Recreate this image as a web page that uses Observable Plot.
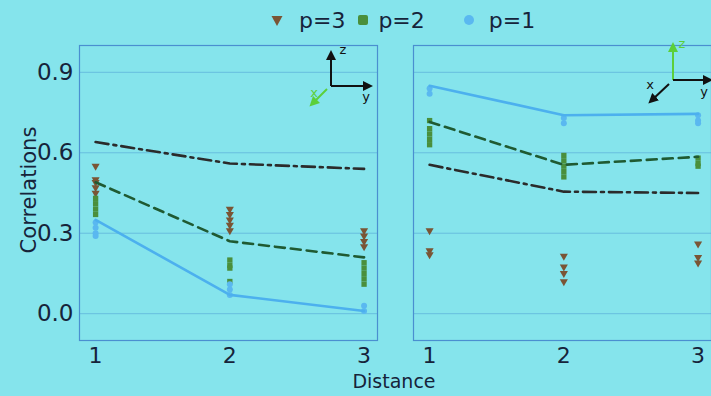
<!DOCTYPE html>
<html><head><meta charset="utf-8">
<script src="https://cdn.jsdelivr.net/npm/d3@7"></script>
<script src="https://cdn.jsdelivr.net/npm/@observablehq/plot@0.6"></script>
<style>
html,body{margin:0;padding:0;background:#85e4ec;overflow:hidden}
#wrap{position:relative;width:711px;height:396px;font-family:"DejaVu Sans",sans-serif;color:#16233a;background:#85e4ec}
#legend{height:40px;display:flex;justify-content:flex-start;align-items:center;font-size:22px;padding-left:271px;box-sizing:border-box}
.item{display:flex;align-items:center}
#ylab{position:absolute;left:29px;top:190px;transform:translate(-50%,-50%) rotate(-90deg);font-size:21px;white-space:nowrap}
#xlab{position:absolute;left:0;width:788px;top:370px;text-align:center;font-size:19px}
#glyph{position:absolute;left:0;top:0}
</style></head>
<body>
<div id="wrap">
  <div id="legend"></div>
  <div id="chart"></div>
  <div id="ylab">Correlations</div>
  <div id="xlab">Distance</div>
  <svg id="glyph" width="711" height="396"></svg>
</div>
<script>
// ---- data ----
const distances = [1, 2, 3];
const panels = ["A", "B"];
const seriesNames = ["p=3", "p=2", "p=1"];
const seriesColors = ["#7a5535", "#4a8f3c", "#5ab8f0"];
const lineColors = ["#2b2b2b", "#1f5a32", "#4cb0ee"];
const yTicks = [0.0, 0.3, 0.6, 0.9];
const xTicks = [1, 2, 3];

// mean lines (one value per distance)
const lineA_p3 = [0.64, 0.56, 0.54];
const lineA_p2 = [0.49, 0.27, 0.21];
const lineA_p1 = [0.35, 0.07, 0.01];
const lineB_p3 = [0.555, 0.455, 0.45];
const lineB_p2 = [0.715, 0.555, 0.585];
const lineB_p1 = [0.85, 0.74, 0.745];

// individual values (one list per distance)
const ptsA_p3 = [[0.55, 0.50, 0.49, 0.47, 0.45], [0.39, 0.37, 0.35, 0.33, 0.31], [0.31, 0.29, 0.27, 0.25]];
const ptsA_p2 = [[0.43, 0.41, 0.39, 0.37], [0.20, 0.18, 0.17, 0.12], [0.19, 0.17, 0.15, 0.13, 0.11]];
const ptsA_p1 = [[0.34, 0.32, 0.30, 0.29], [0.11, 0.09, 0.07], [0.03, 0.01]];
const ptsB_p3 = [[0.31, 0.235, 0.22], [0.215, 0.175, 0.15, 0.12], [0.26, 0.21, 0.19]];
const ptsB_p2 = [[0.72, 0.69, 0.67, 0.65, 0.63], [0.59, 0.57, 0.55, 0.53, 0.51], [0.58, 0.56, 0.55]];
const ptsB_p1 = [[0.84, 0.82], [0.73, 0.71], [0.74, 0.72, 0.71]];

// ---- tables ----
const lineSets = {A: [lineA_p3, lineA_p2, lineA_p1], B: [lineB_p3, lineB_p2, lineB_p1]};
const ptSets = {A: [ptsA_p3, ptsA_p2, ptsA_p1], B: [ptsB_p3, ptsB_p2, ptsB_p1]};
const lines = [], points = [];
for (const panel of panels) {
  lineSets[panel].forEach((vals, i) => vals.forEach((v, j) => lines.push({panel, p: seriesNames[i], d: distances[j], v})));
  ptSets[panel].forEach((groups, i) => groups.forEach((g, j) => g.forEach(v => points.push({panel, p: seriesNames[i], d: distances[j], v}))));
}

// ---- legend ----
const legend = d3.select("#legend");
const shapes = ["triangle", "square", "circle"];
const gapAfterMarker = [16, 9, 14];
const gapAfterText = [12, 38, 0];
seriesNames.forEach((name, i) => {
  const it = legend.append("div").attr("class", "item").style("margin-right", gapAfterText[i] + "px");
  const s = it.append("svg").attr("width", 12).attr("height", 14).style("margin-right", gapAfterMarker[i] + "px");
  if (i === 0) s.append("path").attr("d", "M0.5,3 L11.5,3 L6,13 Z").attr("fill", seriesColors[0]);
  else if (i === 1) s.append("rect").attr("x", 1).attr("y", 2).attr("width", 10).attr("height", 10).attr("rx", 2).attr("fill", seriesColors[1]);
  else s.append("circle").attr("cx", 6).attr("cy", 7).attr("r", 5).attr("fill", seriesColors[2]);
  it.append("span").text(name);
});

// ---- chart ----
const dashes = ["13,5,3,5", "10,6", null];
const chart = Plot.plot({
  width: 711, height: 332,
  marginLeft: 79, marginRight: 0, marginTop: 5, marginBottom: 32,
  style: {background: "transparent", fontFamily: "DejaVu Sans", color: "#16233a", overflow: "visible"},
  fx: {domain: panels, axis: null, paddingInner: 0.108, paddingOuter: 0},
  x: {domain: [0.88, 3.1], axis: null},
  y: {domain: [-0.1, 1.0], axis: null},
  marks: [
    Plot.gridY(yTicks, {stroke: "#4f9ed6", strokeOpacity: 0.55}),
    Plot.frame({stroke: "#4a8fd0", strokeWidth: 1.2}),
    Plot.axisY({ticks: yTicks, tickFormat: d3.format(".1f"), tickSize: 0, tickPadding: 6, fontSize: 23, label: null}),
    Plot.axisX({ticks: xTicks, tickFormat: d => String(d), tickSize: 0, tickPadding: 7, fontSize: 22, label: null}),
    ...seriesNames.map((name, i) => Plot.dot(points.filter(d => d.p === name), {
      fx: "panel", x: "d", y: "v", symbol: shapes[i], rotate: i === 0 ? 180 : 0,
      fill: seriesColors[i], r: 3
    })),
    ...seriesNames.map((name, i) => Plot.line(lines.filter(d => d.p === name), {
      fx: "panel", x: "d", y: "v", stroke: lineColors[i], strokeWidth: 2.6,
      strokeDasharray: dashes[i]
    }))
  ]
});
document.getElementById("chart").append(chart);

// ---- orientation glyphs ----
const g = d3.select("#glyph");
g.append("defs").html(`
  <marker id="ak" viewBox="0 0 10 10" refX="5" refY="5" markerWidth="5" markerHeight="5" orient="auto-start-reverse"><path d="M0,0L10,5L0,10z" fill="#111"/></marker>
  <marker id="ag" viewBox="0 0 10 10" refX="5" refY="5" markerWidth="5" markerHeight="5" orient="auto-start-reverse"><path d="M0,0L10,5L0,10z" fill="#5ccf3a"/></marker>`);
function arrow(x1, y1, x2, y2, c, m) {
  g.append("line").attr("x1", x1).attr("y1", y1).attr("x2", x2).attr("y2", y2)
   .attr("stroke", c).attr("stroke-width", 2).attr("marker-end", `url(#${m})`);
}
function lab(x, y, t, c) {
  g.append("text").attr("x", x).attr("y", y).attr("fill", c).attr("font-size", 13)
   .attr("font-family", "DejaVu Sans").attr("text-anchor", "middle").text(t);
}
arrow(331, 86, 331, 55, "#111", "ak");
arrow(331, 86, 368, 86, "#111", "ak");
arrow(327, 89, 313, 103, "#5ccf3a", "ag");
lab(343, 54, "z", "#111"); lab(366, 101, "y", "#111"); lab(314, 97, "x", "#5ccf3a");
arrow(673, 80, 673, 47, "#5ccf3a", "ag");
arrow(673, 80, 708, 80, "#111", "ak");
arrow(669, 84, 652, 100, "#111", "ak");
lab(682, 48, "z", "#5ccf3a"); lab(704, 96, "y", "#111"); lab(650, 89, "x", "#111");
</script>
</body></html>
